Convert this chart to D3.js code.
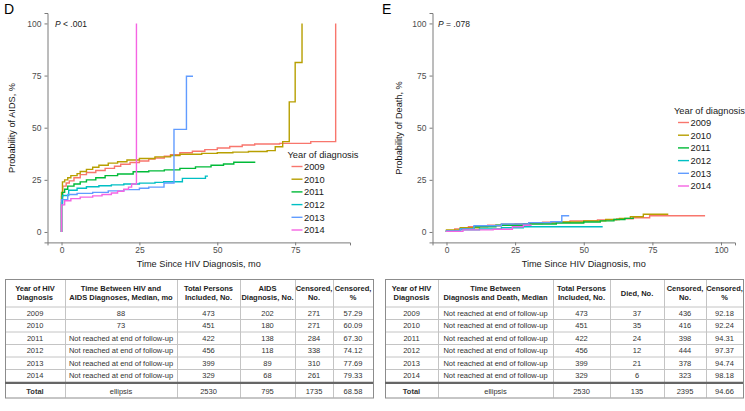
<!DOCTYPE html>
<html>
<head>
<meta charset="utf-8">
<script src="https://cdn.jsdelivr.net/npm/d3@7"></script>
<style>
  body { margin: 0; background: #fff; }
  svg text { font-family: "Liberation Sans", Arial, sans-serif; }
</style>
</head>
<body>
<div id="chart"></div>
<script>
// ---- data ----
const years = ["2009", "2010", "2011", "2012", "2013", "2014"];
const colors = ["#F8766D", "#B79F00", "#00BA38", "#00BFC4", "#619CFF", "#F564E3"];
const yTicks = [0, 25, 50, 75, 100];
const xTicksAids = [0, 25, 50, 75];
const xTicksDeath = [0, 25, 50, 75, 100];

// cumulative probability of AIDS, % ([months, %])
const aids2009 = [[0,0],[0,17],[0.4,22],[1.5,23.5],[2.5,24.5],[4,26],[6,27.5],[8,28.5],[11,29.5],[14,30.5],[17,31.5],[19,32.5],[22,33.3],[25,34],[28,35],[30,35.5],[33,36.3],[35,37],[38,38],[42,38.7],[46,39.5],[50,40.3],[54,41],[58,41.7],[62,42.2],[70,42.5],[80,43.3],[88,43.3],[88,100]];
const aids2010 = [[0,0],[0,19],[0.3,24],[1,25],[2,26],[3,27],[5,28],[6,29],[8,30],[10,31],[12,32],[15,33],[18,33.7],[21,34.5],[25,35.2],[30,36],[35,36.7],[38,37.3],[45,37.7],[50,38],[55,38.3],[60,38.6],[66,39],[68.6,40.9],[71,43.3],[73.1,62.4],[75,81.3],[77.2,100]];
const aids2011 = [[0,0],[0,14],[0.3,19],[1,20.5],[2,22],[4,23],[6,24],[8,25],[11,26],[14,27],[18,27.8],[23,28.9],[28,29.3],[33,29.8],[38,30.5],[43,31.2],[48,32],[52,32.6],[55.3,33.4],[62.2,33.4]];
const aids2012 = [[0,0],[0,13],[0.3,17.5],[2.3,20],[5,21],[8,21.7],[12,22.2],[16,22.6],[20,23],[25,23.4],[30,23.8],[32.8,24.1],[38.8,25.7],[46.2,26.8],[47,26.8]];
const aids2013 = [[0,0],[0,15.5],[2,18],[5,18.5],[10,19],[15,19.7],[20,20.3],[25,21],[28,21.5],[32.9,23.5],[36.1,49.2],[40.1,74.7],[42.2,74.7]];
const aids2014 = [[0,0],[0,13],[1,15],[3,16],[6,16.7],[10,17.3],[13,18],[16,18.7],[18,19.5],[20,20.5],[21.5,21.5],[22.5,23],[24.05,100]];

// cumulative probability of death, %
const death2009 = [[0,0],[0,0.5],[3,1.5],[8,2.5],[15,3.3],[25,4],[35,4.7],[45,5.3],[55,5.8],[62,6.3],[68,6.8],[74,7.8],[94.2,7.8]];
const death2010 = [[0,0],[0,1],[5,2],[12,3],[20,3.7],[30,4.3],[40,4.8],[50,5.3],[58,6],[63,6.5],[67,7.3],[71.7,8.5],[80.8,8.5]];
const death2011 = [[0,0],[0,0.5],[5,1.5],[10,2.5],[18,3.2],[28,3.8],[40,4.3],[50,4.8],[56,5.3],[61,6],[65,6.5],[68,6.9]];
const death2012 = [[0,0],[0,0.3],[5,1],[12,1.5],[20,2],[28,2.5],[56.9,2.5]];
const death2013 = [[0,0],[0,0.5],[5,1.5],[10,3],[20,3.8],[30,4.5],[38,4.9],[42,7.8],[44.7,7.8]];
const death2014 = [[0,0],[0,0.3],[6,1],[17,1.3],[24,2.5],[28,3.2],[31,3.2]];

// table values
const notReached = "Not reached at end of follow-up";
const aidsMedian = ["88", "73", notReached, notReached, notReached, notReached, "ellipsis"];
const totalPersons = ["473", "451", "422", "456", "399", "329", "2530"];
const aidsDiagnosed = ["202", "180", "138", "118", "89", "68", "795"];
const aidsCensored = ["271", "271", "284", "338", "310", "261", "1735"];
const aidsCensoredPct = ["57.29", "60.09", "67.30", "74.12", "77.69", "79.33", "68.58"];
const deathMedian = [notReached, notReached, notReached, notReached, notReached, notReached, "ellipsis"];
const died = ["37", "35", "24", "12", "21", "6", "135"];
const deathCensored = ["436", "416", "398", "444", "378", "323", "2395"];
const deathCensoredPct = ["92.18", "92.24", "94.31", "97.37", "94.74", "98.18", "94.66"];
const rowLabels = years.concat(["Total"]);

const aidsHeaders = [["Year of HIV", "Diagnosis"], ["Time Between HIV and", "AIDS Diagnoses, Median, mo"], ["Total Persons", "Included, No."], ["AIDS", "Diagnosis, No."], ["Censored,", "No."], ["Censored,", "%"]];
const deathHeaders = [["Year of HIV", "Diagnosis"], ["Time Between", "Diagnosis and Death, Median"], ["Total Persons", "Included, No."], ["Died, No."], ["Censored,", "No."], ["Censored,", "%"]];

// ---- drawing ----
const W = 745, H = 411;
const svg = d3.select("#chart").append("svg").attr("width", W).attr("height", H);

function drawPanel(opt) {
  const x = d3.scaleLinear().domain(opt.xDomain).range([opt.left, opt.right]);
  const y = d3.scaleLinear().domain([-5, 105]).range([242.4, 13]);
  const g = svg.append("g");

  const xAxis = g.append("g").attr("transform", `translate(0,${y(-5)})`)
    .call(d3.axisBottom(x).tickValues(opt.xTicks).tickSize(3).tickPadding(2));
  const yAxis = g.append("g").attr("transform", `translate(${x(opt.xDomain[0])},0)`)
    .call(d3.axisLeft(y).tickValues(yTicks).tickSize(3).tickPadding(3));
  [xAxis, yAxis].forEach(a => {
    a.select(".domain").attr("stroke", "#7a7a7a").attr("stroke-width", 1);
    a.selectAll(".tick line").attr("stroke", "#7a7a7a");
    a.selectAll(".tick text").attr("fill", "#4d4d4d").attr("font-size", 8.5)
      .style("font-family", "Liberation Sans, Arial, sans-serif");
  });

  const line = d3.line().x(d => x(d[0])).y(d => y(d[1])).curve(d3.curveStepAfter);
  opt.series.forEach((s, i) => {
    g.append("path").datum(s).attr("d", line)
      .attr("fill", "none").attr("stroke", colors[i]).attr("stroke-width", 1.4);
  });

  g.append("text").attr("x", (opt.left + opt.right) / 2).attr("y", 267)
    .attr("text-anchor", "middle").attr("font-size", 9.2).attr("fill", "#1a1a1a")
    .text("Time Since HIV Diagnosis, mo");
  g.append("text").attr("transform", `translate(${opt.yTitleX},128) rotate(-90)`)
    .attr("text-anchor", "middle").attr("font-size", 9.2).attr("fill", "#1a1a1a")
    .text(opt.yTitle);
  g.append("text").attr("x", opt.panelX).attr("y", 14).attr("font-size", 14).attr("fill", "#000")
    .text(opt.panel);

  const p = g.append("text").attr("x", opt.pX).attr("y", 27).attr("font-size", 8.5).attr("fill", "#1a1a1a");
  p.append("tspan").attr("font-style", "italic").text("P");
  p.append("tspan").text(opt.pText);

  // legend
  const lg = g.append("g").attr("transform", `translate(${opt.legX},${opt.legY})`);
  lg.append("text").attr("x", 0).attr("y", 3.3).attr("font-size", 9.3).attr("fill", "#1a1a1a")
    .text("Year of diagnosis");
  years.forEach((yr, i) => {
    const yy = 11.5 + i * 12.7;
    lg.append("line").attr("x1", 4).attr("x2", 15).attr("y1", yy).attr("y2", yy)
      .attr("stroke", colors[i]).attr("stroke-width", 1.4);
    lg.append("text").attr("x", 16.5).attr("y", yy + 3.3).attr("font-size", 9.3).attr("fill", "#1a1a1a")
      .text(yr);
  });
}

drawPanel({
  panel: "D", panelX: 4, left: 47.5, right: 350, xDomain: [-4.5, 92.6], xTicks: xTicksAids,
  series: [aids2009, aids2010, aids2011, aids2012, aids2013, aids2014],
  yTitle: "Probability of AIDS, %", yTitleX: 15, pX: 55, pText: " < .001",
  legX: 287.5, legY: 155
});
drawPanel({
  panel: "E", panelX: 382, left: 432.5, right: 735, xDomain: [-5.1, 105.1], xTicks: xTicksDeath,
  series: [death2009, death2010, death2011, death2012, death2013, death2014],
  yTitle: "Probability of Death, %", yTitleX: 402, pX: 438, pText: " = .078",
  legX: 674, legY: 111
});

function drawTable(opt) {
  const cols = [rowLabels].concat(opt.columns);
  const g = svg.append("g");
  const edges = opt.edges;
  const top = 279, headH = 27.5, rowH = 12.5;
  const rowY = d3.range(7).map(i => i < 6 ? top + headH + i * rowH : top + headH + 6 * rowH + 2.5);
  const rowHeights = d3.range(7).map(i => i < 6 ? rowH : 13.5);
  const bottom = rowY[6] + rowHeights[6];

  // cell grid
  for (let i = 0; i < 6; i++) {
    g.append("line").attr("x1", edges[0]).attr("x2", edges[6])
      .attr("y1", rowY[i] + 0.5).attr("y2", rowY[i] + 0.5)
      .attr("stroke", "#c4c4c4").attr("stroke-width", 1);
  }
  for (let c = 1; c < 6; c++) {
    g.append("line").attr("x1", edges[c] + 0.5).attr("x2", edges[c] + 0.5)
      .attr("y1", top).attr("y2", bottom).attr("stroke", "#c4c4c4").attr("stroke-width", 1);
  }
  g.append("rect").attr("x", edges[0] + 0.5).attr("y", top + 0.5)
    .attr("width", edges[6] - edges[0]).attr("height", bottom - top)
    .attr("fill", "none").attr("stroke", "#8c8c8c").attr("stroke-width", 1);
  g.append("line").attr("x1", edges[0]).attr("x2", edges[6])
    .attr("y1", rowY[6] - 1.2).attr("y2", rowY[6] - 1.2)
    .attr("stroke", "#666").attr("stroke-width", 2.2);

  // headers
  opt.headers.forEach((lines, c) => {
    const cx = (edges[c] + edges[c + 1]) / 2;
    const y0 = top + headH / 2 - (lines.length - 1) * 4.8 + 2.8;
    lines.forEach((t, k) => {
      g.append("text").attr("x", cx).attr("y", y0 + k * 9.6).attr("text-anchor", "middle")
        .attr("font-size", 7.5).attr("font-weight", "bold").attr("fill", "#222").text(t);
    });
  });

  // body
  cols.forEach((col, c) => {
    const cx = (edges[c] + edges[c + 1]) / 2;
    col.forEach((v, r) => {
      g.append("text").attr("x", cx).attr("y", rowY[r] + rowHeights[r] / 2 + 2.8)
        .attr("text-anchor", "middle").attr("font-size", 7.5)
        .attr("font-weight", r === 6 && c === 0 ? "bold" : "normal")
        .attr("fill", "#333").text(v);
    });
  });
}

drawTable({
  edges: [5, 65, 177, 240, 295, 333, 373],
  headers: aidsHeaders,
  columns: [aidsMedian, totalPersons, aidsDiagnosed, aidsCensored, aidsCensoredPct]
});
drawTable({
  edges: [385, 438, 553, 610, 664, 706, 743],
  headers: deathHeaders,
  columns: [deathMedian, totalPersons, died, deathCensored, deathCensoredPct]
});
</script>
</body>
</html>
